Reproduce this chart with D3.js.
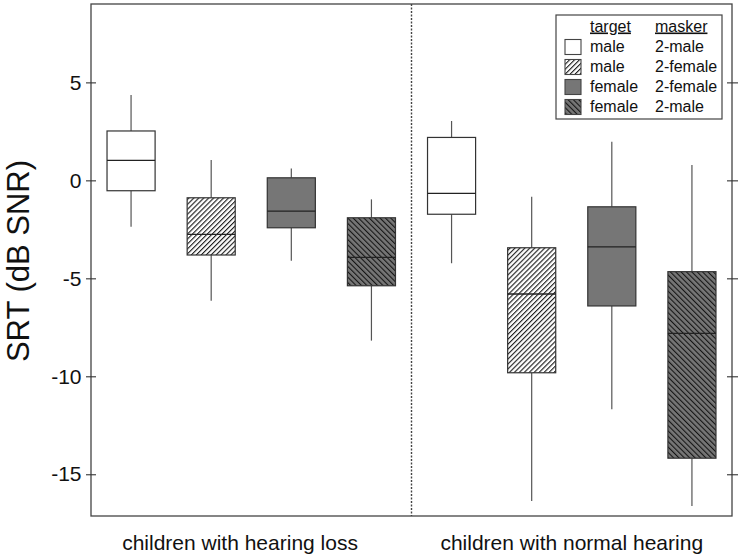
<!DOCTYPE html>
<html>
<head>
<meta charset="utf-8">
<script src="https://cdn.jsdelivr.net/npm/d3@7"></script>
<style>
  html, body { margin: 0; padding: 0; background: #fff; }
  svg { display: block; font-family: "Liberation Sans", Arial, sans-serif; }
</style>
</head>
<body>
<svg id="chart" width="742" height="556"></svg>
<script>
// ---- data ----
const groups = ["children with hearing loss", "children with normal hearing"];
const targets = ["male", "male", "female", "female"];
const maskers = ["2-male", "2-female", "2-female", "2-male"];
const fillKinds = ["white", "hatchUp", "gray", "hatchDown"];
// 8 boxes: 4 conditions x 2 groups
const whiskerHi = [4.35, 1.04, 0.61, -0.97, 3.03, -0.84, 1.97, 0.78];
const q3 = [2.52, -0.89, 0.13, -1.91, 2.19, -3.44, -1.35, -4.66];
const median = [1.02, -2.76, -1.57, -3.93, -0.66, -5.80, -3.40, -7.81];
const q1 = [-0.53, -3.81, -2.42, -5.38, -1.73, -9.82, -6.41, -14.18];
const whiskerLo = [-2.37, -6.14, -4.10, -8.18, -4.23, -16.36, -11.68, -16.62];
const yTicks = [-15, -10, -5, 0, 5];
const yLabel = "SRT (dB SNR)";

(function () {
// ---- layout ----
const svg = d3.select("#chart");
const pL = 91, pR = 732, pT = 4, pB = 516;
const x = d3.scaleLinear().domain([0.5, 8.5]).range([pL, pR]);
const y = d3.scaleLinear().domain([-17.13, 9.0]).range([pB, pT]);
const boxW = x(0.6) - x(0);
const grayFill = "#767676";
const strokeCol = "#333";
const groupLabelPos = [2.36, 6.5];

// patterns
const defs = svg.append("defs");
function hatch(id, angle, bg, s, w) {
  const p = defs.append("pattern").attr("id", id)
    .attr("patternUnits", "userSpaceOnUse")
    .attr("width", s).attr("height", s)
    .attr("patternTransform", `rotate(${angle})`);
  p.append("rect").attr("width", s).attr("height", s).attr("fill", bg);
  p.append("line").attr("x1", 0.6).attr("y1", 0).attr("x2", 0.6).attr("y2", s)
    .attr("stroke", "#000").attr("stroke-width", w);
}
hatch("hUp", 45, "#fff", 3.5, 1.0);
hatch("hDown", -45, grayFill, 3.8, 0.9);
const fillFor = k => k === "white" ? "#fff" : k === "gray" ? grayFill : k === "hatchUp" ? "url(#hUp)" : "url(#hDown)";

// frame
svg.append("rect").attr("x", pL).attr("y", pT).attr("width", pR - pL).attr("height", pB - pT)
  .attr("fill", "none").attr("stroke", "#444").attr("stroke-width", 1.3);

// separator
svg.append("line").attr("x1", x(4.5)).attr("x2", x(4.5)).attr("y1", pT).attr("y2", pB)
  .attr("stroke", "#444").attr("stroke-width", 1.4).attr("stroke-dasharray", "2,1.5");

// y axis (left, with labels) via d3 axis
const yAxis = d3.axisLeft(y).tickValues(yTicks).tickSize(5).tickPadding(4).tickFormat(d => String(d));
const gy = svg.append("g").attr("transform", `translate(${pL},0)`).call(yAxis);
gy.select(".domain").remove();
gy.selectAll(".tick line").attr("x1", -5).attr("x2", 5).attr("stroke", "#333").attr("stroke-width", 1.1);
gy.selectAll(".tick text").attr("font-size", 21).attr("fill", "#111")
  .attr("font-family", "Liberation Sans, Arial, sans-serif").attr("x", -9.5);

// right axis ticks only
const yAxisR = d3.axisRight(y).tickValues(yTicks).tickSize(5).tickFormat("");
const gr = svg.append("g").attr("transform", `translate(${pR},0)`).call(yAxisR);
gr.select(".domain").remove();
gr.selectAll(".tick line").attr("x1", -5).attr("x2", 6).attr("stroke", "#333").attr("stroke-width", 1.1);

// y label
svg.append("text").attr("transform", `translate(29,261) rotate(-90)`)
  .attr("text-anchor", "middle").attr("font-size", 31).attr("fill", "#111").text(yLabel);

// group labels
groups.forEach((g, i) => {
  svg.append("text").attr("x", x(groupLabelPos[i])).attr("y", 550)
    .attr("text-anchor", "middle").attr("font-size", 21).attr("fill", "#111").text(g);
});

// boxes
const idx = d3.range(8);
const bx = svg.append("g");
idx.forEach(i => {
  const cx = x(i + 1);
  bx.append("line").attr("x1", cx).attr("x2", cx).attr("y1", y(whiskerHi[i])).attr("y2", y(q3[i]))
    .attr("stroke", "#555").attr("stroke-width", 1.2);
  bx.append("line").attr("x1", cx).attr("x2", cx).attr("y1", y(q1[i])).attr("y2", y(whiskerLo[i]))
    .attr("stroke", "#555").attr("stroke-width", 1.2);
  bx.append("rect").attr("x", cx - boxW / 2).attr("y", y(q3[i]))
    .attr("width", boxW).attr("height", y(q1[i]) - y(q3[i]))
    .attr("fill", fillFor(fillKinds[i % 4])).attr("stroke", strokeCol).attr("stroke-width", 1.2);
  bx.append("line").attr("x1", cx - boxW / 2).attr("x2", cx + boxW / 2)
    .attr("y1", y(median[i])).attr("y2", y(median[i]))
    .attr("stroke", "#222").attr("stroke-width", 1.3);
});

// legend
const lg = svg.append("g");
lg.append("rect").attr("x", 556).attr("y", 15).attr("width", 166).attr("height", 104)
  .attr("fill", "#fff").attr("stroke", "#444").attr("stroke-width", 1.2);
lg.append("text").attr("x", 590).attr("y", 31.5).attr("font-size", 16).attr("fill", "#111")
  .attr("text-decoration", "underline").text("target");
lg.append("text").attr("x", 655).attr("y", 31.5).attr("font-size", 16).attr("fill", "#111")
  .attr("text-decoration", "underline").text("masker");
targets.forEach((t, i) => {
  const yy = 39.5 + i * 20;
  lg.append("rect").attr("x", 565).attr("y", yy).attr("width", 16).attr("height", 15)
    .attr("fill", fillFor(fillKinds[i])).attr("stroke", "#444").attr("stroke-width", 1.1);
  lg.append("text").attr("x", 590).attr("y", yy + 12.5).attr("font-size", 16).attr("fill", "#111").text(t);
  lg.append("text").attr("x", 655).attr("y", yy + 12.5).attr("font-size", 16).attr("fill", "#111").text(maskers[i]);
});
})();
</script>
</body>
</html>
